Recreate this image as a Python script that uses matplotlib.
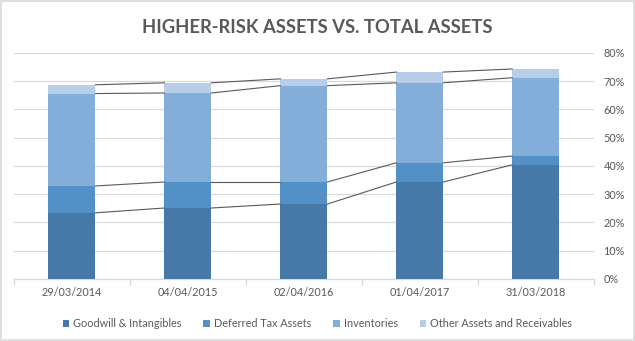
import numpy as np
import matplotlib.pyplot as plt
from matplotlib.patches import Rectangle
from matplotlib.ticker import PercentFormatter, FixedLocator

dates = ["29/03/2014", "04/04/2015", "02/04/2016", "01/04/2017", "31/03/2018"]
series_names = ["Goodwill & Intangibles", "Deferred Tax Assets", "Inventories",
                "Other Assets and Receivables"]
goodwill = [23.4, 25.1, 26.5, 34.3, 40.4]
deferred_tax = [9.5, 9.2, 7.8, 6.8, 3.1]
inventories = [32.7, 31.5, 34.1, 28.3, 27.7]
other = [3.1, 3.6, 2.4, 3.8, 3.1]

colors = ["#4678A8", "#5290C7", "#84AEDA", "#B7CDE8"]
text_col = "#595959"
grid_col = "#D9D9D9"

plt.rcParams["font.family"] = ["Lato", "DejaVu Sans"]

fig = plt.figure(figsize=(6.35, 3.41), dpi=100)
ax = fig.add_axes([0.022, 0.182, 0.913, 0.663])

x = np.arange(len(dates))
w = 0.405
bottom = np.zeros(len(dates))
tops = []
for vals, name, c in zip([goodwill, deferred_tax, inventories, other], series_names, colors):
   v = np.array(vals)
   ax.bar(x, v, w, bottom=bottom, color=c, label=name, zorder=3)
   bottom = bottom + v
   tops.append(bottom.copy())

## series lines between neighbouring bars
for top in tops:
   for i in range(len(x) - 1):
      ax.plot([x[i] + w / 2, x[i + 1] - w / 2], [top[i], top[i + 1]],
              color="#5A5A5A", lw=0.8, zorder=4)

ax.set_xlim(-0.5, len(dates) - 0.5)
ax.set_ylim(0, 80)
ax.yaxis.tick_right()
ax.yaxis.set_major_locator(FixedLocator(np.arange(0, 81, 10)))
ax.yaxis.set_major_formatter(PercentFormatter(decimals=0))
ax.tick_params(axis="y", length=0, labelsize=7.8, labelcolor=text_col, pad=7)
ax.grid(axis="y", color=grid_col, lw=0.9, zorder=0)

ax.set_xticks(x)
ax.set_xticklabels(dates)
ax.tick_params(axis="x", length=0, labelsize=7.8, labelcolor=text_col, pad=6)
ax.set_xticks(np.arange(-0.5, len(dates)), minor=True)
ax.tick_params(axis="x", which="minor", length=4, color=grid_col, width=0.9)

for s in ["top", "left", "right"]:
   ax.spines[s].set_visible(False)
ax.spines["bottom"].set_color(grid_col)
ax.spines["bottom"].set_linewidth(0.9)

fig.text(0.5, 0.918, "HIGHER-RISK ASSETS VS. TOTAL ASSETS", ha="center", va="center",
         fontsize=13.2, fontweight="bold", color=text_col)

leg = fig.legend(loc="center", bbox_to_anchor=(0.5, 0.05), ncol=4, frameon=False,
                 fontsize=7.8, handlelength=0.6, handleheight=0.6, handletextpad=0.4,
                 columnspacing=2.0, labelcolor=text_col)

fig.patches.append(Rectangle((0.001, 0.002), 0.997, 0.995, transform=fig.transFigure,
                             fill=False, edgecolor=grid_col, lw=1.2))

fig.savefig("out.png", dpi=100)
